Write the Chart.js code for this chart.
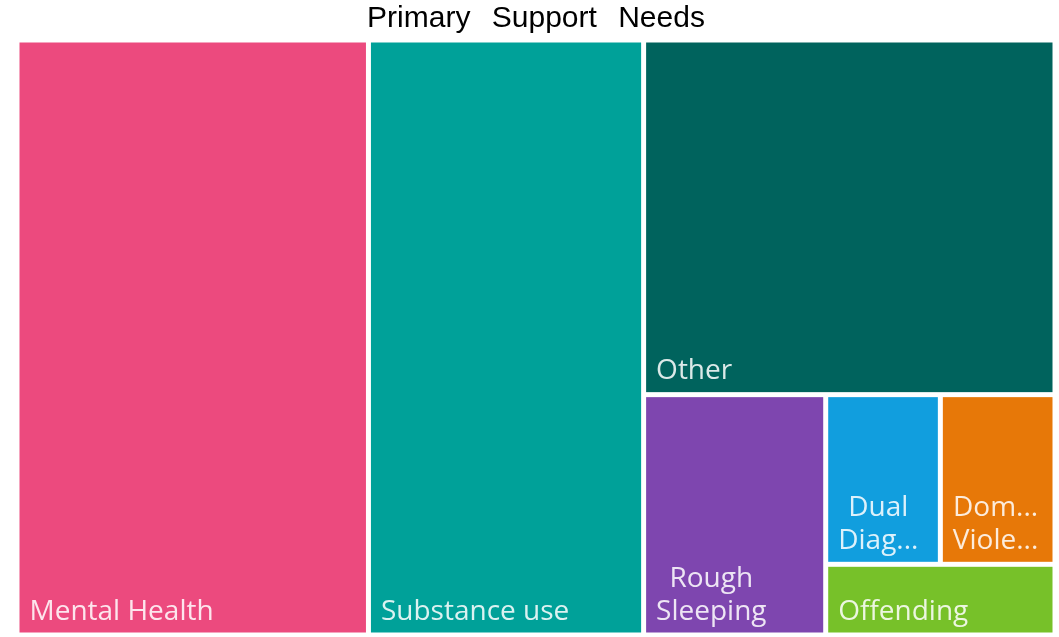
<!DOCTYPE html>
<html>
<head>
<meta charset="utf-8">
<title>Primary Support Needs</title>
<script src="https://cdn.jsdelivr.net/npm/chart.js@4.4.1/dist/chart.umd.min.js"></script>
<style>
  html, body { margin: 0; padding: 0; background: #fff; }
  #wrap { width: 1059px; height: 637px; }
</style>
</head>
<body>
<div id="wrap"><canvas id="chartNeeds"></canvas></div>
<script>
// Values (share of people by primary need)
const categories = ['Mental Health', 'Substance use', 'Other', 'Rough Sleeping', 'Dual Diagnosis', 'Domestic Violence', 'Offending'];
const counts = [129, 101, 90, 27, 12, 12, 10];
const tileColors = ['#EC4A7E', '#00A199', '#00635D', '#7E46AF', '#119EDE', '#E77808', '#77C129'];

const TARGET_RATIO = 1.95; // squarify aims for tiles about this shape
const GAP = 5;

// worst aspect score of a strip laid along "side"
function score(row, side) {
    const sum = row.reduce((a, b) => a + b, 0);
    const thick = sum / side;
    let worst = 0;
    row.forEach(a => {
        const len = a / thick;
        const r = Math.max(len / thick, thick / len);
        worst = Math.max(worst, r / TARGET_RATIO, TARGET_RATIO / r);
    });
    return worst;
}

// squarified layout, in the same units as W and H
function squarify(values, W, H) {
    const total = values.reduce((a, b) => a + b, 0);
    const areas = values.map(v => v * W * H / total);
    const out = [];
    let x = 0, y = 0, w = W, h = H, i = 0;
    while (i < areas.length) {
        const side = Math.min(w, h);
        const row = [areas[i]];
        let best = score(row, side);
        let j = i + 1;
        while (j < areas.length) {
            const next = score(row.concat(areas[j]), side);
            if (next > best) break;
            row.push(areas[j]);
            best = next;
            j++;
        }
        const sum = row.reduce((a, b) => a + b, 0);
        const thick = sum / side;
        let off = 0;
        row.forEach(a => {
            const len = a / thick;
            if (w >= h) out.push({ x: x, y: y + off, w: thick, h: len });
            else out.push({ x: x + off, y: y, w: len, h: thick });
            off += len;
        });
        if (w >= h) { x += thick; w -= thick; } else { y += thick; h -= thick; }
        i = j;
    }
    return out;
}

function fitWord(ctx, word, maxW) {
    if (ctx.measureText(word).width <= maxW) return word;
    let s = word;
    while (s.length > 1 && ctx.measureText(s + '...').width > maxW) s = s.slice(0, -1);
    return s + '...';
}

function wrapLabel(ctx, text, maxW) {
    if (ctx.measureText(text).width <= maxW) return [text];
    const lines = [];
    let cur = '';
    text.split(' ').forEach(word => {
        const t = cur ? cur + ' ' + word : word;
        if (ctx.measureText(t).width <= maxW) cur = t;
        else { if (cur) lines.push(cur); cur = word; }
    });
    if (cur) lines.push(cur);
    return lines.map(l => fitWord(ctx, l, maxW));
}

const treemapTiles = {
    id: 'treemapTiles',
    beforeDraw(chart) {
        chart.ctx.wordSpacing = '13px';
    },
    beforeDatasetsDraw(chart) {
        const { ctx, chartArea, scales } = chart;
        ctx.wordSpacing = '0px';
        const W = chartArea.width, H = chartArea.height;
        const tiles = squarify(counts, W, H);
        ctx.save();
        ctx.font = '28px "Open Sans"';
        tiles.forEach((t, i) => {
            const left = scales.x.getPixelForValue(t.x / W) + GAP / 2;
            const right = scales.x.getPixelForValue((t.x + t.w) / W) - GAP / 2;
            const top = scales.y.getPixelForValue(t.y / H) + GAP / 2;
            const bottom = scales.y.getPixelForValue((t.y + t.h) / H) - GAP / 2;
            ctx.fillStyle = tileColors[i];
            ctx.fillRect(left, top, right - left, bottom - top);

            const lines = wrapLabel(ctx, categories[i], right - left - 20);
            const blockW = Math.max(...lines.map(l => ctx.measureText(l).width));
            ctx.fillStyle = 'rgba(255,255,255,0.86)';
            ctx.textAlign = 'center';
            ctx.textBaseline = 'alphabetic';
            lines.forEach((l, k) => {
                const yLine = bottom - 13 - (lines.length - 1 - k) * 33;
                ctx.fillText(l, left + 10 + blockW / 2, yLine);
            });
        });
        ctx.restore();
    }
};

new Chart(document.getElementById('chartNeeds'), {
    type: 'scatter',
    data: {
        datasets: [{ label: 'Primary Support Needs', data: [], pointRadius: 0 }]
    },
    options: {
        responsive: true,
        maintainAspectRatio: false,
        animation: false,
        layout: { padding: { left: 17, right: 4, bottom: 2, top: 0 } },
        scales: {
            x: { type: 'linear', min: 0, max: 1, display: false },
            y: { type: 'linear', min: 0, max: 1, reverse: true, display: false }
        },
        plugins: {
            legend: { display: false },
            tooltip: { enabled: false },
            title: {
                display: true,
                text: 'Primary Support Needs',
                color: '#000',
                font: { family: '"Liberation Sans", Arial, sans-serif', size: 30, weight: 'normal' },
                padding: { top: 1, bottom: 3 }
            }
        }
    },
    plugins: [treemapTiles]
});
</script>
</body>
</html>
